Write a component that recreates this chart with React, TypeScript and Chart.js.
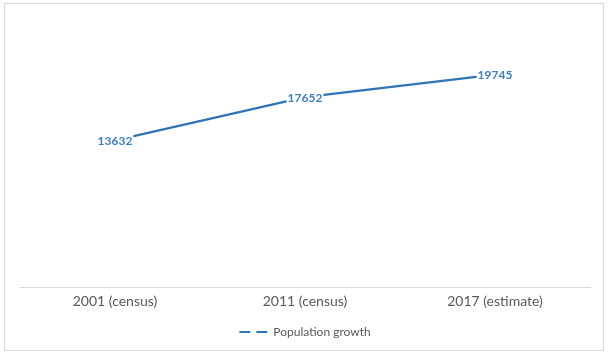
import React, { useEffect, useRef } from "react";
import { Chart, registerables } from "chart.js";

Chart.register(...registerables);

const categories = ["2001 (census)", "2011 (census)", "2017 (estimate)"];
const populationGrowth = [13632, 17652, 19745];
const seriesName = "Population growth";
const yMin = 0;
const yMax = 25000;

const LINE_COLOR = "#2E75B6";
const LABEL_COLOR = "#3A7FC4";
const TEXT_COLOR = "#595959";
const FONT = "Lato, 'Open Sans', sans-serif";

const dataLabelPlugin = {
  id: "dataLabels",
  afterDatasetsDraw(chart: any) {
    const ctx = chart.ctx;
    const meta = chart.getDatasetMeta(0);
    ctx.save();
    ctx.font = "bold 12px " + FONT;
    ctx.textAlign = "center";
    ctx.textBaseline = "middle";
    meta.data.forEach((pt: any, i: number) => {
      const txt = String(populationGrowth[i]);
      const w = ctx.measureText(txt).width;
      ctx.fillStyle = "#ffffff";
      ctx.fillRect(pt.x - w / 2 - 1, pt.y - 6, w + 2, 12);
      ctx.fillStyle = LABEL_COLOR;
      ctx.fillText(txt, pt.x, pt.y + 1);
    });
    ctx.restore();
  },
};

export default function App() {
  const ref = useRef<HTMLCanvasElement>(null);

  useEffect(() => {
    if (!ref.current) return;
    const chart = new Chart(ref.current, {
      type: "line",
      data: {
        labels: categories,
        datasets: [
          {
            label: seriesName,
            data: populationGrowth,
            borderColor: LINE_COLOR,
            backgroundColor: LINE_COLOR,
            borderWidth: 2.25,
            pointRadius: 0,
            pointHoverRadius: 0,
            tension: 0,
            fill: false,
          },
        ],
      },
      options: {
        responsive: false,
        animation: false,
        layout: { padding: { left: 20, right: 18, top: 18, bottom: 10 } },
        scales: {
          x: {
            offset: true,
            grid: { display: false, drawTicks: false },
            border: { display: true, color: "#d9d9d9", width: 1 },
            ticks: {
              color: TEXT_COLOR,
              font: { family: FONT, size: 14 },
              padding: 6,
              maxRotation: 0,
            },
          },
          y: {
            display: false,
            min: yMin,
            max: yMax,
          },
        },
        plugins: {
          tooltip: { enabled: false },
          legend: {
            position: "bottom",
            labels: {
              color: TEXT_COLOR,
              font: { family: FONT, size: 12 },
              usePointStyle: true,
              pointStyleWidth: 28,
              generateLabels(chart: any) {
                const items = Chart.defaults.plugins.legend.labels.generateLabels(chart);
                return items.map((it: any) => ({
                  ...it,
                  pointStyle: "line",
                  lineDash: [11, 6],
                  lineWidth: 2,
                  strokeStyle: LINE_COLOR,
                  fillStyle: LINE_COLOR,
                }));
              },
            },
          },
        },
      },
      plugins: [dataLabelPlugin],
    });
    return () => chart.destroy();
  }, []);

  return (
    <div style={{ position: "absolute", left: 0, top: 0, width: 608, height: 358, background: "#fff" }}>
      <div
        style={{
          position: "absolute",
          left: 4,
          top: 3,
          width: 598,
          height: 346,
          border: "1px solid #d9d9d9",
        }}
      />
      <canvas
        ref={ref}
        width={608}
        height={358}
        style={{ position: "absolute", left: 0, top: 0 }}
      />
    </div>
  );
}
